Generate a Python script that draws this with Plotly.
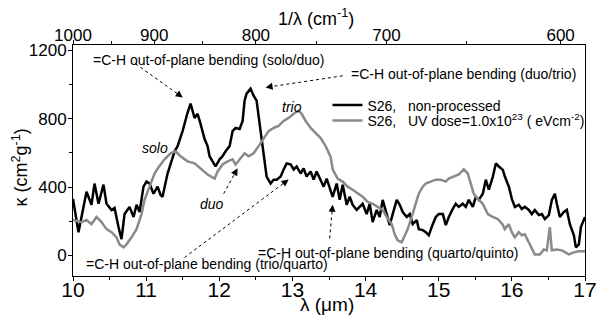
import plotly.graph_objects as go

# ---------------- data ----------------
# Black: S26, non-processed  (wavelength in micron, kappa in cm^2 g^-1)
black_x = [10.0, 10.075, 10.185, 10.253, 10.294, 10.349, 10.417, 10.458, 10.527, 10.568,
           10.622, 10.663, 10.705, 10.773, 10.828, 10.869, 10.910, 10.964, 11.005, 11.047,
           11.101, 11.156, 11.197, 11.224, 11.293, 11.389, 11.430, 11.498, 11.566, 11.607,
           11.662, 11.703, 11.744, 11.799, 11.840, 11.867, 11.908, 11.949, 12.004, 12.045,
           12.086, 12.141, 12.182, 12.223, 12.278, 12.319, 12.346, 12.373, 12.428, 12.469,
           12.510, 12.565, 12.606, 12.647, 12.702, 12.743, 12.784, 12.839, 12.880, 12.921,
           12.976, 13.017, 13.058, 13.112, 13.153, 13.194, 13.249, 13.290, 13.331, 13.386,
           13.427, 13.468, 13.523, 13.550, 13.605, 13.646, 13.687, 13.742, 13.783, 13.824,
           13.878, 13.919, 13.960, 14.015, 14.056, 14.097, 14.152, 14.193, 14.234, 14.289,
           14.330, 14.371, 14.426, 14.467, 14.508, 14.563, 14.604, 14.645, 14.700, 14.727,
           14.782, 14.823, 14.864, 14.919, 14.960, 15.001, 15.056, 15.097, 15.138, 15.192,
           15.233, 15.274, 15.329, 15.370, 15.411, 15.466, 15.507, 15.548, 15.603, 15.644,
           15.685, 15.740, 15.781, 15.822, 15.877, 15.904, 15.959, 16.000, 16.041, 16.095,
           16.136, 16.177, 16.232, 16.273, 16.314, 16.369, 16.410, 16.451, 16.506, 16.547,
           16.588, 16.615, 16.656, 16.711, 16.752, 16.793, 16.848, 16.875, 16.916, 16.944,
           17.0]
black_y = [331, 136, 372, 296, 420, 302, 414, 302, 266, 278,
           166, 95, 242, 284, 225, 296, 254, 402, 432, 420,
           361, 402, 355, 343, 479, 609, 639, 727, 834, 887,
           804, 828, 769, 680, 639, 580, 550, 520, 562, 580,
           609, 639, 727, 745, 739, 786, 905, 946, 975, 934,
           905, 716, 597, 461, 420, 443, 443, 461, 503, 538,
           532, 503, 520, 479, 509, 461, 491, 443, 491, 443,
           402, 449, 380, 343, 420, 325, 414, 296, 343, 296,
           266, 284, 302, 242, 302, 195, 266, 225, 325, 242,
           177, 242, 325, 296, 254, 225, 242, 183, 207, 154,
           148, 136, 118, 183, 225, 242, 242, 177, 225, 272,
           302, 284, 302, 284, 325, 284, 343, 325, 361, 443,
           384, 461, 538, 520, 500, 461, 402, 331, 284, 296,
           272, 284, 266, 242, 266, 236, 242, 213, 236, 325,
           361, 302, 225, 254, 266, 183, 118, 47, 65, 166,
           225]

# Grey: S26, UV dose = 1.0x10^23 eV cm^-2
grey_x = [10.0, 10.116, 10.185, 10.253, 10.321, 10.390, 10.458, 10.527, 10.595, 10.636,
          10.691, 10.732, 10.800, 10.869, 10.937, 10.978, 11.046, 11.115, 11.170, 11.252,
          11.334, 11.402, 11.471, 11.566, 11.662, 11.744, 11.840, 11.936, 11.977, 12.045,
          12.114, 12.182, 12.223, 12.291, 12.346, 12.401, 12.469, 12.538, 12.606, 12.674,
          12.743, 12.811, 12.880, 12.948, 13.017, 13.085, 13.126, 13.181, 13.249, 13.317,
          13.386, 13.454, 13.523, 13.550, 13.618, 13.687, 13.755, 13.824, 13.892, 13.960,
          14.029, 14.097, 14.166, 14.234, 14.289, 14.357, 14.398, 14.439, 14.494, 14.535,
          14.576, 14.631, 14.672, 14.700, 14.727, 14.782, 14.823, 14.891, 14.960, 15.027,
          15.096, 15.137, 15.206, 15.274, 15.342, 15.397, 15.438, 15.479, 15.534, 15.602,
          15.671, 15.739, 15.808, 15.876, 15.903, 15.958, 15.999, 16.040, 16.095, 16.136,
          16.177, 16.232, 16.273, 16.314, 16.383, 16.437, 16.478, 16.519, 16.546, 16.615,
          16.683, 16.779, 16.847, 16.916, 17.0]
grey_y = [207, 195, 207, 183, 225, 195, 154, 136, 106, 65,
          47, 65, 106, 154, 242, 325, 402, 479, 515, 562,
          597, 609, 580, 550, 538, 509, 473, 449, 491, 532,
          550, 562, 532, 568, 597, 580, 597, 639, 680, 727,
          745, 757, 786, 804, 828, 846, 828, 786, 745, 716,
          686, 639, 575, 503, 449, 432, 402, 384, 361, 343,
          313, 302, 284, 266, 225, 183, 124, 89, 77, 118,
          154, 225, 284, 320, 361, 402, 420, 432, 443, 443,
          432, 449, 461, 473, 503, 479, 420, 361, 331, 302,
          242, 225, 213, 180, 154, 183, 136, 106, 136, 118,
          124, 77, 47, 6, 6, 35, 30, 166, 30, 35,
          30, 6, 18, 24, 24]

x_ticks = [10, 11, 12, 13, 14, 15, 16, 17]
y_ticks = [0, 400, 800, 1200]
top_ticks = [1000, 900, 800, 700, 600]          # wavenumber, cm^-1
top_minor = [950, 850, 750, 650]

series_names = ["S26,\u00a0\u00a0 non-processed",
                "S26,\u00a0\u00a0 UV dose=1.0x10<sup>23</sup> (\u00a0eVcm<sup>-2</sup>)"]

# band labels: (text, x, y)
band_labels = [
    ("=C-H out-of-plane bending (solo/duo)", 10.24, 1141),
    ("=C-H out-of-plane bending (duo/trio)", 13.78, 1062),
    ("=C-H out-of-plane bending (trio/quarto)", 10.157, -47),
    ("=C-H out-of-plane bending (quarto/quinto)", 12.497, 17),
]
group_labels = [("solo", 11.115, 627), ("duo", 11.90, 302), ("trio", 13.0, 869)]
# dotted pointers: (tail x, tail y, tip x, tip y, head dx px, head dy px)
pointers = [
    (10.855, 1120, 11.50, 923, -6.4, -4.8),
    (13.687, 1050, 12.633, 982, 7.9, -1.3),
    (12.060, 361, 12.250, 509, -3.9, 7.0),
    (11.525, -12, 12.948, 444, -6.4, 4.8),
    (13.509, 100, 13.550, 296, -0.7, 8.0),
]

FONT = "Liberation Sans, Arial, sans-serif"

fig = go.Figure()
fig.add_trace(go.Scatter(x=black_x, y=black_y, mode="lines", name=series_names[0],
                         line=dict(color="black", width=2.5), legend="legend"))
fig.add_trace(go.Scatter(x=grey_x, y=grey_y, mode="lines", name=series_names[1],
                         line=dict(color="#8a8a8a", width=2.5), legend="legend2"))
# carrier for the top wavenumber axis
fig.add_trace(go.Scatter(x=[10, 17], y=[None, None], xaxis="x2", mode="lines",
                         showlegend=False, hoverinfo="skip"))

for t, x, y in band_labels:
    fig.add_annotation(x=x, y=y, text=t, showarrow=False, xanchor="left", yanchor="middle",
                       font=dict(size=14, color="black", family=FONT))
for t, x, y in group_labels:
    fig.add_annotation(x=x, y=y, text="<i>" + t + "</i>", showarrow=False,
                       xanchor="center", yanchor="middle",
                       font=dict(size=14, color="black", family=FONT))
for x0, y0, x1, y1, dx, dy in pointers:
    fig.add_shape(type="line", x0=x0, y0=y0, x1=x1, y1=y1, xref="x", yref="y",
                  line=dict(color="black", width=1, dash="dot"))
    fig.add_annotation(x=x1, y=y1, ax=dx, ay=dy, text="", showarrow=True,
                       arrowhead=2, arrowsize=1.4, arrowwidth=1, arrowcolor="black", standoff=0)

# axis titles
fig.add_annotation(xref="paper", yref="paper", x=0.496, y=0, yshift=-28, text="λ (μm)",
                   xanchor="center", yanchor="middle",
                   showarrow=False, font=dict(size=19, family=FONT, color="black"))
fig.add_annotation(xref="paper", yref="paper", x=0.475, y=1, yshift=28, text="1/λ (cm<sup>-1</sup>)",
                   xanchor="center", yanchor="middle",
                   showarrow=False, font=dict(size=18, family=FONT, color="black"))
fig.add_annotation(xref="paper", yref="paper", x=0, xshift=-53, y=0.47, textangle=-90,
                   xanchor="center", yanchor="middle",
                   text="κ (cm<sup>2</sup>g<sup>-1</sup>)",
                   showarrow=False, font=dict(size=18, family=FONT, color="black"))

axis_common = dict(showgrid=False, zeroline=False, showline=True, linecolor="black",
                   linewidth=1, ticks="outside", tickcolor="black", ticklen=4)
legend_common = dict(xanchor="left", yanchor="middle", bgcolor="rgba(0,0,0,0)", borderwidth=0,
                     font=dict(size=14, family=FONT, color="black"), itemwidth=30)

fig.update_layout(
    width=609, height=324,
    margin=dict(l=73, r=12, t=45, b=48),
    plot_bgcolor="white", paper_bgcolor="white",
    font=dict(family=FONT, color="black"),
    showlegend=True,
    legend=dict(x=0.497, y=0.738, **legend_common),
    legend2=dict(x=0.497, y=0.671, **legend_common),
    xaxis=dict(range=[10, 17], tickmode="array", tickvals=x_ticks,
               tickfont=dict(size=21), ticklabelstandoff=-9, **axis_common,
               minor=dict(ticks="outside", ticklen=3, tickcolor="black", dtick=0.5, tick0=10)),
    xaxis2=dict(overlaying="x", side="top", range=[10, 17], tickmode="array",
                tickvals=[10000 / w for w in top_ticks], ticktext=[str(w) for w in top_ticks],
                tickfont=dict(size=17), ticklabelstandoff=-8, **axis_common,
                minor=dict(ticks="outside", ticklen=3, tickcolor="black",
                           tickmode="array", tickvals=[10000 / w for w in top_minor])),
    yaxis=dict(range=[-120, 1230], tickmode="array", tickvals=y_ticks, mirror=True,
               tickfont=dict(size=17), ticklabelstandoff=-2, **axis_common,
               minor=dict(ticks="outside", ticklen=3, tickcolor="black", dtick=200, tick0=0)),
)

fig.write_html("out.html", config={"displayModeBar": False},
               post_script="document.body.style.margin='0';document.body.style.overflow='hidden';")
